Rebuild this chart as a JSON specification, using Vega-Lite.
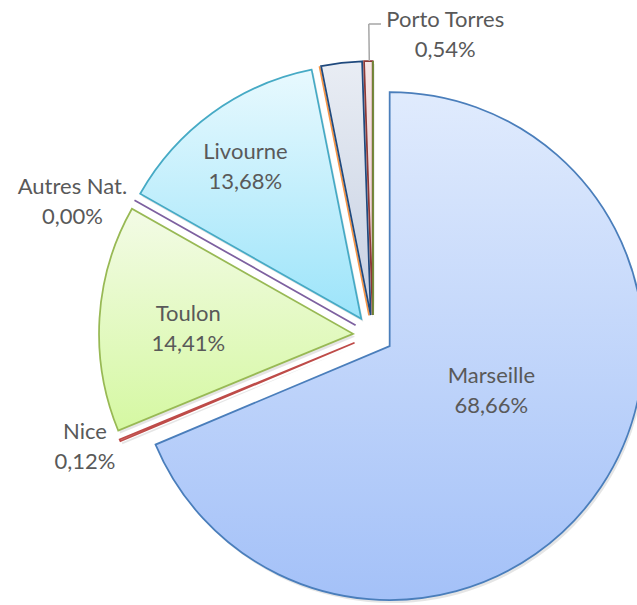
{
  "$schema": "https://vega.github.io/schema/vega-lite/v6.json",
  "width": 528,
  "height": 540,
  "autosize": "none",
  "padding": {"left": 109, "top": 65, "right": 0, "bottom": 0},
  "background": "#ffffff",
  "config": {
    "view": {"stroke": null},
    "locale": {"number": {"decimal": ",", "thousands": " ", "grouping": [3], "currency": ["", " €"]}}
  },
  "data": {
    "values": [
      {"port": "Marseille", "part": 0.6866, "rang": 1},
      {"port": "Nice", "part": 0.0012, "rang": 2},
      {"port": "Toulon", "part": 0.1441, "rang": 3},
      {"port": "Autres Nat.", "part": 0.0, "rang": 4},
      {"port": "Livourne", "part": 0.1368, "rang": 5},
      {"port": "Série 6", "part": 0.0, "rang": 6},
      {"port": "Série 7", "part": 0.0259, "rang": 7},
      {"port": "Porto Torres", "part": 0.0054, "rang": 8},
      {"port": "Série 9", "part": 0.0, "rang": 9}
    ]
  },
  "layer": [
    {
      "mark": {
        "type": "arc",
        "radius": 254,
        "fill": "#000000",
        "fillOpacity": 0.1,
        "strokeWidth": 0,
        "xOffset": {"expr": "20*sin(PI*(datum.part_start+datum.part_end))+2"},
        "yOffset": {"expr": "-20*cos(PI*(datum.part_start+datum.part_end))+3"}
      },
      "encoding": {
        "theta": {"field": "part", "type": "quantitative", "stack": true, "scale": {"domain": [0, 1]}},
        "order": {"field": "rang", "type": "quantitative"}
      }
    },
    {
      "mark": {
        "type": "arc",
        "radius": 254,
        "strokeWidth": 1.75,
        "strokeJoin": "miter",
        "xOffset": {"expr": "20*sin(PI*(datum.part_start+datum.part_end))"},
        "yOffset": {"expr": "-20*cos(PI*(datum.part_start+datum.part_end))"},
        "fill": {"expr": "{gradient:'linear',x1:0,y1:0,x2:0,y2:1,stops:[{offset:0,color:{'Marseille':'#e0ebfd','Nice':'#f4d8d7','Toulon':'#f3fbe6','Autres Nat.':'#e6e0f0','Livourne':'#e8f9fe','Série 6':'#fde5d2','Série 7':'#e9edf4','Porto Torres':'#f5e6e6','Série 9':'#e6eed5'}[datum.port]},{offset:1,color:{'Marseille':'#a4c1f8','Nice':'#e8b3b1','Toulon':'#d5f8a2','Autres Nat.':'#cfc3e2','Livourne':'#9ce4fa','Série 6':'#fbc9a0','Série 7':'#c6d0e2','Porto Torres':'#e8cece','Série 9':'#cddcae'}[datum.port]}]}"}
      },
      "encoding": {
        "theta": {"field": "part", "type": "quantitative", "stack": true},
        "order": {"field": "rang", "type": "quantitative"},
        "stroke": {
          "field": "port",
          "type": "nominal",
          "legend": null,
          "scale": {
            "domain": ["Marseille", "Nice", "Toulon", "Autres Nat.", "Livourne", "Série 6", "Série 7", "Porto Torres", "Série 9"],
            "range": ["#4a7ebb", "#be4b48", "#98b954", "#7d60a0", "#46aac5", "#f79646", "#1f497d", "#8c3836", "#6f8a36"]
          }
        }
      }
    },
    {
      "mark": {
        "type": "text",
        "font": "Lato",
        "fontSize": 22,
        "lineHeight": 30,
        "color": "#595959",
        "align": "center",
        "baseline": "middle",
        "radius": {"expr": "{'Marseille':106,'Nice':284,'Toulon':166,'Autres Nat.':315,'Livourne':203,'Porto Torres':304}[datum.port] || 0"},
        "thetaOffset": {"expr": "{'Marseille':-0.300,'Nice':0.075,'Toulon':0.058,'Autres Nat.':-0.061,'Livourne':0.019,'Porto Torres':0.258}[datum.port] || 0"},
        "xOffset": {"expr": "20*sin(PI*(datum.part_start+datum.part_end))"},
        "yOffset": {"expr": "-20*cos(PI*(datum.part_start+datum.part_end))"},
        "text": {"expr": "test(/^Série/, datum.port) ? '' : [datum.port, format(datum.part, '.2%')]"}
      },
      "encoding": {
        "theta": {"field": "part", "type": "quantitative", "stack": true},
        "order": {"field": "rang", "type": "quantitative"}
      }
    },
    {
      "transform": [{"filter": {"field": "port", "equal": "Porto Torres"}}],
      "mark": {"type": "arc", "innerRadius": 274, "radius": 311, "fill": null, "stroke": "#a6a6a6", "strokeWidth": 1.5},
      "encoding": {
        "theta": {"datum": 0.99785, "type": "quantitative"},
        "theta2": {"datum": 0.99785}
      }
    },
    {
      "transform": [{"filter": {"field": "port", "equal": "Porto Torres"}}],
      "mark": {"type": "arc", "innerRadius": 311, "radius": 311, "fill": null, "stroke": "#a6a6a6", "strokeWidth": 1.5},
      "encoding": {
        "theta": {"datum": 0.99785, "type": "quantitative"},
        "theta2": {"datum": 1.0041}
      }
    }
  ]
}
